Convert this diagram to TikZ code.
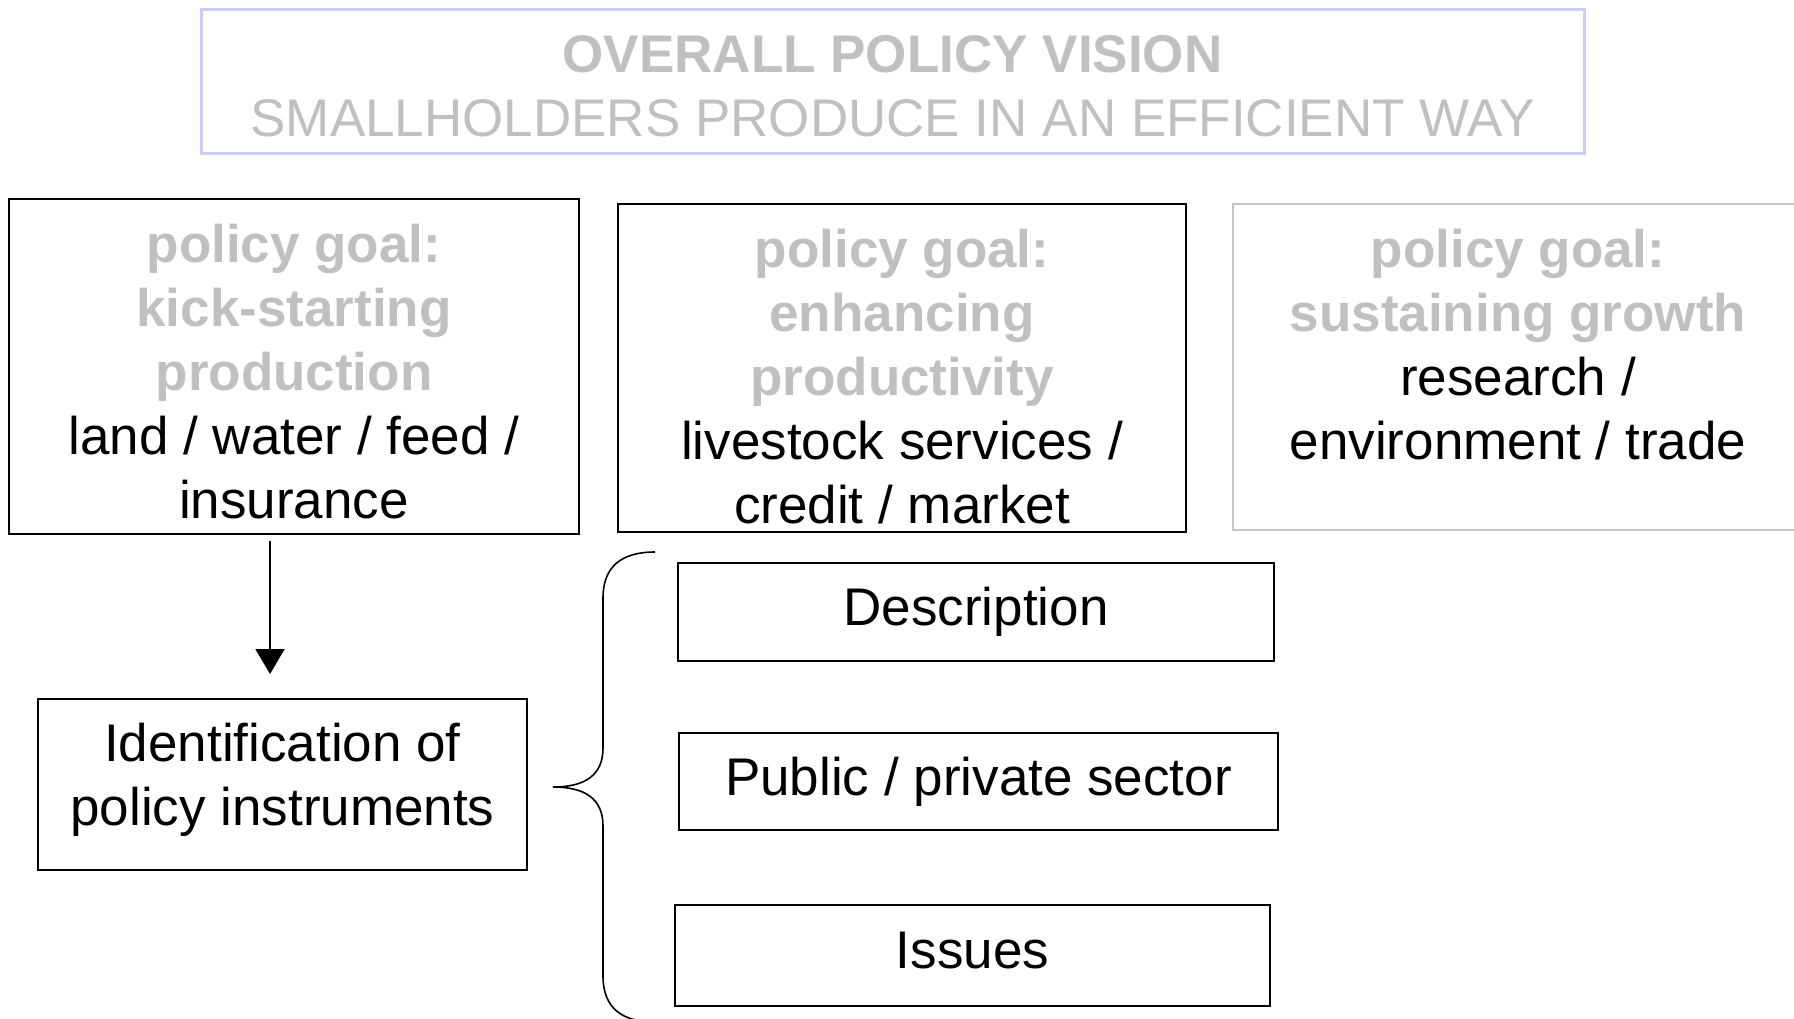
\documentclass[tikz,border=0pt]{standalone}
\usepackage{fontspec}
\setmainfont{Liberation Sans}
\usetikzlibrary{arrows.meta}
\definecolor{gtxt}{RGB}{192,192,192}
\definecolor{lav}{RGB}{204,204,255}
\definecolor{gbox}{RGB}{196,196,196}
\tikzset{
  bx/.style={draw=black, line width=1pt, inner sep=0pt},
  txt/.style={inner sep=0pt, align=center, font=\fontsize{26.5pt}{32pt}\selectfont},
  arr/.style={line width=1pt, -{Triangle[width=14.5pt,length=12.5pt]}},
  bracestyle/.style={line width=0.8pt}
}
\begin{document}
\begin{tikzpicture}[x=0.5pt,y=-0.5pt]
\path[use as bounding box] (0,0) rectangle (1794,1018);
\fill[white] (0,0) rectangle (1794,1018);
\clip (0,0) rectangle (1794,1018);
% top vision box
\node[bx, draw=lav, line width=1.5pt, minimum width=691.5pt, minimum height=72pt] (vision) at (892.5,81) {};
\node[txt, text=gtxt] (visiontxt) at ([yshift=-2.5pt]vision.center) {{\bfseries OVERALL POLICY VISION}\\SMALLHOLDERS PRODUCE IN AN EFFICIENT WAY};
% goal boxes
\node[bx, minimum width=285pt, minimum height=167.5pt] (g1) at (294,366.5) {};
\node[bx, minimum width=284pt, minimum height=164pt] (g2) at (902,368) {};
\node[bx, draw=gbox, minimum width=285pt, minimum height=163pt] (g3) at (1518,367) {};
\node[txt, anchor=north] (g1t) at ([yshift=-13pt]g1.north) {{\color{gtxt}\bfseries policy goal:}\\{\color{gtxt}\bfseries kick-starting}\\{\color{gtxt}\bfseries production}\\land / water / feed /\\insurance};
\node[txt, anchor=north] (g2t) at ([yshift=-13pt]g2.north) {{\color{gtxt}\bfseries policy goal:}\\{\color{gtxt}\bfseries enhancing}\\{\color{gtxt}\bfseries productivity}\\livestock services /\\credit / market};
\node[txt, anchor=north] (g3t) at ([yshift=-13pt]g3.north) {{\color{gtxt}\bfseries policy goal:}\\{\color{gtxt}\bfseries sustaining growth}\\research /\\environment / trade};
% identification
\node[bx, minimum width=244.5pt, minimum height=85.5pt] (ident) at (282.5,784.5) {};
\node[txt] (identt) at ([yshift=2.5pt]ident.center) {Identification of\\policy instruments};
% arrow
\coordinate (ax) at (270,0);
\draw[arr, shorten <=3pt, shorten >=12pt] (g1.south -| ax) -- (ident.north -| ax);
% right boxes
\node[bx, txt, draw=black, line width=1pt, minimum width=298pt, minimum height=49pt] (desc) at (976,612) {Description};
\node[bx, txt, draw=black, line width=1pt, minimum width=299.5pt, minimum height=48.5pt] (pub) at (978.5,781.5) {Public / private sector};
\node[bx, minimum width=297.5pt, minimum height=50.5pt] (iss) at (972.5,955.5) {};
\node[txt] (isst) at ([yshift=2.3pt]iss.center) {Issues};
% brace
\coordinate (brtip) at (553,787);
\draw[bracestyle] (655,552) .. controls (622,552) and (603,566) .. (603,598)
  -- (603,748) .. controls (603,776) and (584,787) .. (brtip)
  .. controls (584,787) and (603,798) .. (603,826)
  -- (603,976) .. controls (603,1008) and (622,1022) .. (655,1022);
\end{tikzpicture}
\end{document}
